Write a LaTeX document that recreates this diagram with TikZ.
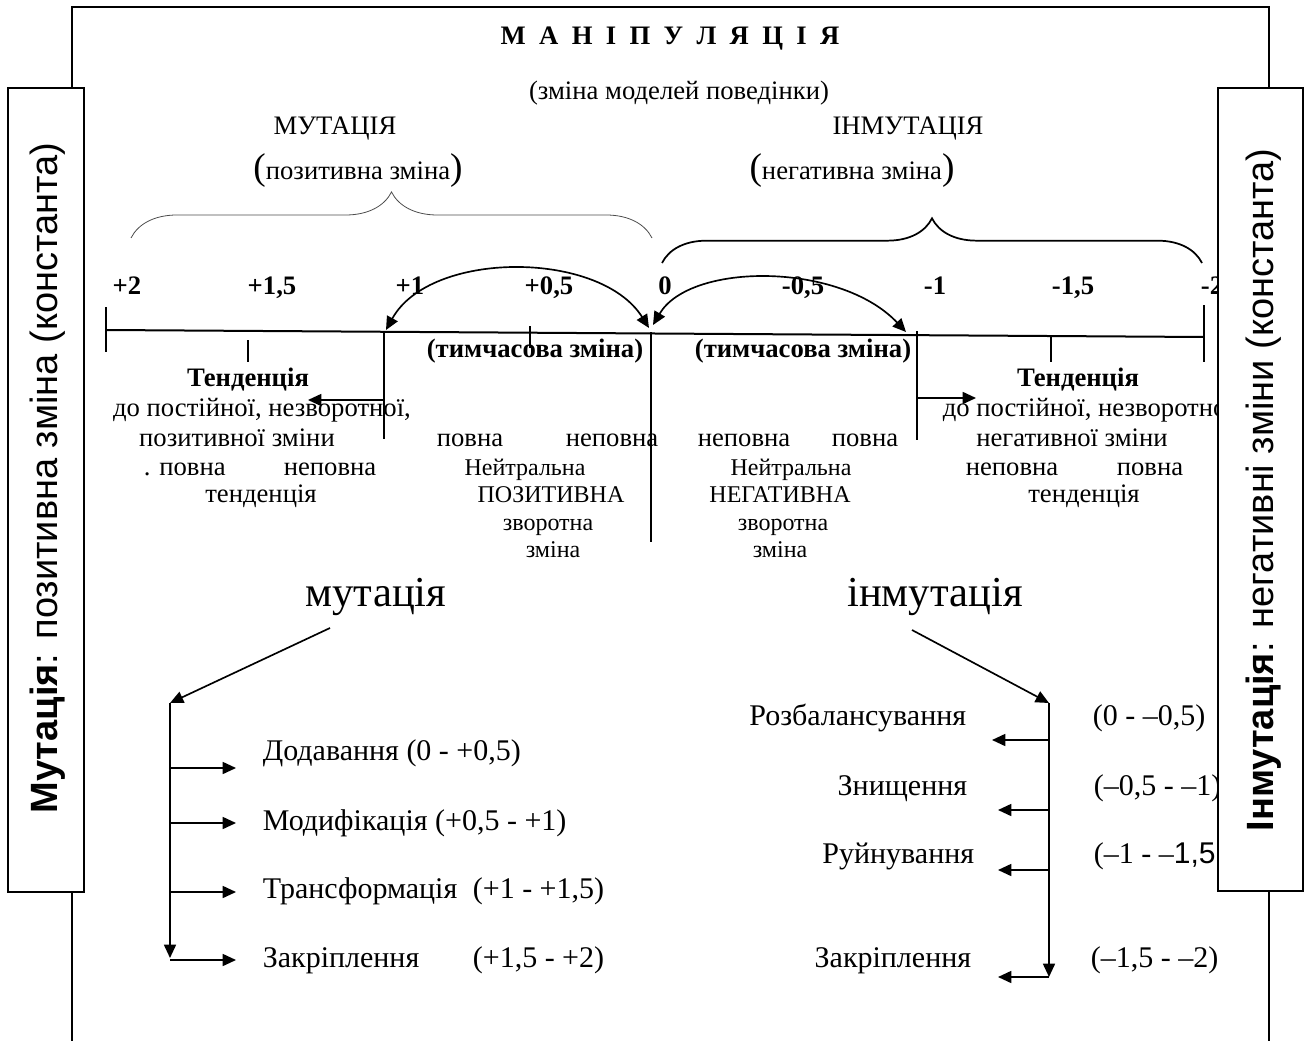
\documentclass[tikz,border=0pt]{standalone}
\usepackage{fontspec}
\setmainfont{Liberation Serif}
\setsansfont{Liberation Sans}
\usetikzlibrary{arrows.meta,decorations.pathreplacing,positioning}
\newcommand{\parbig}[1]{{\fontsize{28}{28}\selectfont #1}}

\begin{document}
\begin{tikzpicture}[x=0.75pt,y=-0.75pt,line width=1.25pt,
    txt/.style={inner sep=0pt,anchor=base,font=\fontsize{20}{22}\selectfont},
    sml/.style={inner sep=0pt,anchor=base,font=\fontsize{18}{20}\selectfont},
    num/.style={inner sep=0pt,anchor=base,font=\bfseries\fontsize{20}{22}\selectfont},
    lst/.style={inner sep=0pt,font=\fontsize{22.5}{24}\selectfont},
    big/.style={inner sep=0pt,anchor=base,font=\fontsize{32}{34}\selectfont},
    side/.style={inner sep=0pt,rotate=90,font=\sffamily\fontsize{28.5}{28.5}\selectfont},
    arr/.style={-{Triangle[length=10pt,width=9pt]}},
    arrs/.style={{Triangle[length=10pt,width=9pt]}-{Triangle[length=10pt,width=9pt]}}]

  \useasboundingbox (0,0) rectangle (1306,1041);

  % frame
  \draw[line width=1.4pt] (72,1041) -- (72,7) -- (1269,7) -- (1269,1041);

  % heading
  \node[num] (title) at (670,45) {\spaceskip=0.5em plus 0pt М А Н І П У Л Я Ц І Я};
  \node[txt] (model) at (679,100) {(зміна моделей поведінки)};
  \node[txt] (mut) at (335,135) {МУТАЦІЯ};
  \node[txt] (inmut) at (908,135) {ІНМУТАЦІЯ};
  \node[txt] (pos) at (358,180) {\parbig{(}позитивна зміна\parbig{)}};
  \node[txt] (neg) at (852,180) {\parbig{(}негативна зміна\parbig{)}};

  % braces
  \draw[decorate,decoration={brace,amplitude=34.5pt},line width=0.6pt,black!70] (131,238) -- (652,238);
  \draw[decorate,decoration={brace,amplitude=33.5pt},line width=1.3pt] (662,263) -- (1202,263);

  % scale
  \foreach \x/\lbl [count=\i] in {127/+2, 272/{+1,5}, 410/+1, 549/{+0,5}, 665/0,
      803/{-0,5}, 935/-1, 1073/{-1,5}, 1212/-2}
    \node[num] (n\i) at (\x,295) {\lbl};

  \draw[line width=1.5pt] (106,330) -- (1204,337);
  \draw (106,307) -- (106,352);
  \draw (248,340) -- (248,362);
  \draw (530,326) -- (530,348);
  \draw (1051,337) -- (1051,362);
  \draw (1204,305) -- (1204,362);
  \draw (384,331) -- (384,439);
  \draw (651,332) -- (651,542);
  \draw (917,331) -- (917,440);

  \coordinate (p1) at (386,330);
  \coordinate (z0) at (649,328);
  \coordinate (z1) at (653,325);
  \coordinate (m1) at (906,332);
  \draw[arrs] (p1) .. controls (430,250) and (600,250) .. (z0);
  \draw[arrs] (z1) .. controls (690,262) and (840,262) .. (m1);

  \coordinate (pt) at (384,400);
  \coordinate (ptend) at (308,400);
  \coordinate (mt) at (917,398);
  \coordinate (mtend) at (976,398);
  \draw[arr] (pt) -- (ptend);
  \draw[arr] (mt) -- (mtend);

  \node[num] (tmp1) at (535,357) {(тимчасова зміна)};
  \node[num] (tmp2) at (803,357) {(тимчасова зміна)};

  % left tendency
  \node[num] (tendL) at (248,386) {Тенденція};
  \node[txt] (tL1) at (262,416) {до постійної, незворотної,};
  \node[txt] (tL2) at (237,446) {позитивної зміни};
  \node[txt,anchor=base west] (tL3) at (143,475) {. повна};
  \node[txt] (tL4) at (330,475) {неповна};
  \node[txt] (tL5) at (261,502) {тенденція};

  % positive neutral
  \node[txt] (pn1) at (470,446) {повна};
  \node[txt] (pn2) at (612,446) {неповна};
  \node[sml] (pn3) at (525,475) {Нейтральна};
  \node[sml] (pn4) at (551,502) {ПОЗИТИВНА};
  \node[sml] (pn5) at (548,530) {зворотна};
  \node[sml] (pn6) at (553,557) {зміна};

  % negative neutral
  \node[txt] (nn1) at (744,446) {неповна};
  \node[txt] (nn2) at (865,446) {повна};
  \node[sml] (nn3) at (791,475) {Нейтральна};
  \node[sml] (nn4) at (780,502) {НЕГАТИВНА};
  \node[sml] (nn5) at (783,530) {зворотна};
  \node[sml] (nn6) at (780,557) {зміна};

  % right tendency
  \node[num] (tendR) at (1078,386) {Тенденція};
  \node[txt,anchor=base west] (tR1) at (942,416) {до постійної, незворотної,};
  \node[txt] (tR2) at (1072,446) {негативної зміни};
  \node[txt] (tR3) at (1012,475) {неповна};
  \node[txt] (tR4) at (1150,475) {повна};
  \node[txt] (tR5) at (1084,502) {тенденція};

  % mutation branch
  \node[big] (mutb) at (376,606) {мутація};
  \coordinate (ms) at (330,628);
  \coordinate (mc) at (170,703);
  \coordinate (me) at (170,958);
  \draw[arr] (ms) -- (mc);
  \draw[arr] (mc) -- (me);
  \foreach \y [count=\i] in {768,823,892,960} {
    \coordinate (ma\i) at (170,\y);
    \coordinate (mb\i) at (236,\y);
    \draw[arr] (ma\i) -- (mb\i);
  }
  \node[lst,anchor=base west] (add) at (262,760) {Додавання (0 - +0,5)};
  \node[lst,anchor=base west] (mod) at (262,830) {Модифікація (+0,5 - +1)};
  \node[lst,anchor=base west] (trf) at (262,898) {Трансформація};
  \node[lst,anchor=base west] (trfr) at (472,898) {(+1 - +1,5)};
  \node[lst,anchor=base west] (fix) at (262,967) {Закріплення};
  \node[lst,anchor=base west] (fixr) at (472,967) {(+1,5 - +2)};

  % inmutation branch
  \node[big] (inmutb) at (935,606) {інмутація};
  \coordinate (is) at (912,630);
  \coordinate (ic) at (1049,703);
  \coordinate (ie) at (1049,977);
  \draw[arr] (is) -- (ic);
  \draw[arr] (ic) -- (ie);
  \foreach \y/\x [count=\i] in {740/992,810/998,870/998,977/998} {
    \coordinate (ia\i) at (1049,\y);
    \coordinate (ib\i) at (\x,\y);
    \draw[arr] (ia\i) -- (ib\i);
  }
  \node[lst,anchor=base east] (unb) at (967,725) {Розбалансування};
  \node[lst,anchor=base east] (dst) at (968,795) {Знищення};
  \node[lst,anchor=base east] (rui) at (975,863) {Руйнування};
  \node[lst,anchor=base east] (ifx) at (972,967) {Закріплення};
  \node[lst,anchor=base west] (unbr) at (1092,725) {(0 - –0,5)};
  \node[lst,anchor=base west] (dstr) at (1093,795) {(–0,5 - –1)};
  \node[lst,anchor=base west] (ruir) at (1093,863) {(–1 - –{\sffamily 1,5}};
  \node[lst,anchor=base west] (ifxr) at (1090,967) {(–1,5 - –2)};

  % side boxes
  \draw[line width=1.4pt,fill=white] (8,88) rectangle (84,892);
  \draw[line width=1.4pt,fill=white] (1218,88) rectangle (1303,891);
  \node[side] (mutside) at (48,478) {\textbf{Мутація}: позитивна зміна (константа)};
  \node[side] (inmutside) at (1264,490) {\textbf{Інмутація}: негативні зміни (константа)};
\end{tikzpicture}
\end{document}
